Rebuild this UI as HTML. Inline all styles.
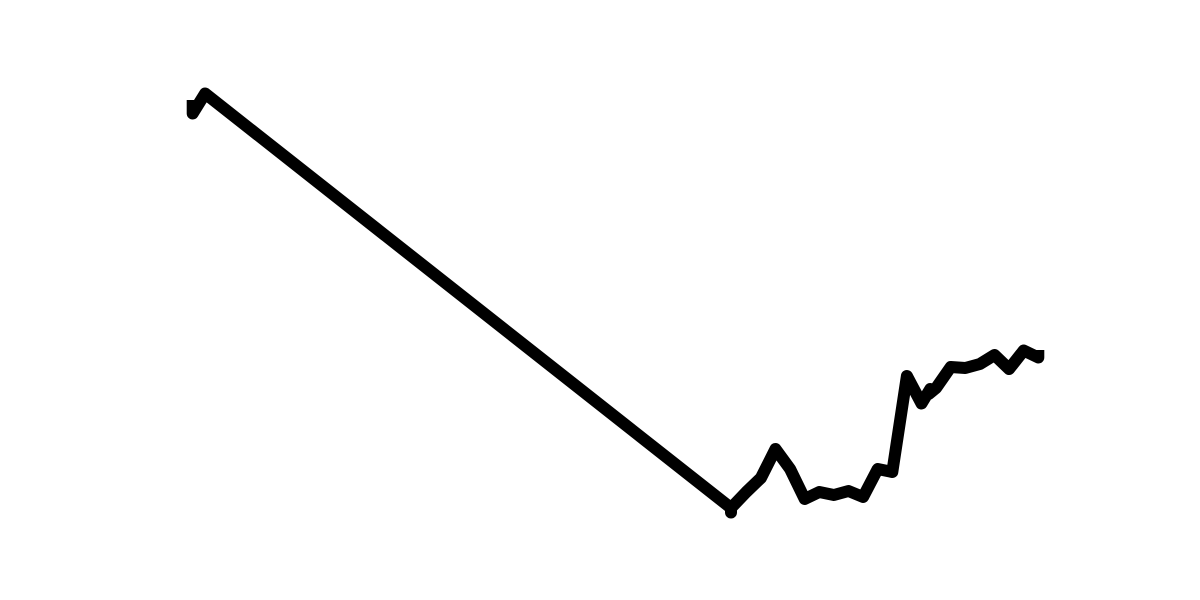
<!DOCTYPE html>
<html lang="en">
<head>
<meta charset="utf-8">
<title>Line chart</title>
<style>
html,body{margin:0;padding:0;background:#fff;}
svg{display:block;}
</style>
</head>
<body>
<svg id="chart" width="1200" height="600" viewBox="0 0 1200 600" xmlns="http://www.w3.org/2000/svg">
<rect width="1200" height="600" fill="#ffffff"></rect>
<path id="series" fill="none" stroke="#000000" stroke-width="12" stroke-linejoin="round" stroke-linecap="butt"></path>
</svg>
<script>
const days = [0.08,0.08,0.93,36.95,36.95,36.95,38,39,40,41,42,43,44,45,46,47,48,49,50,50.6,50.5,51,52,53,54,55,56,57,58,58];
const values = [90,87.3,91.3,8.4,7.5,8.4,11.6,14.4,20.2,16.2,10.2,11.6,11,11.8,10.6,16.2,15.6,34.8,29.3,32.2,31.2,32.4,36.6,36.4,37.2,39,36.2,39.9,38.5,40];

function xScale(day){ return 191.5 + day * 14.6; }
function yScale(value){ return 550 - value * 5; }

const d = days.map(function(day, i){
  return (i === 0 ? 'M' : 'L') + xScale(day).toFixed(1) + ' ' + yScale(values[i]).toFixed(1);
}).join(' ');
document.getElementById('series').setAttribute('d', d);
</script>
</body>
</html>
